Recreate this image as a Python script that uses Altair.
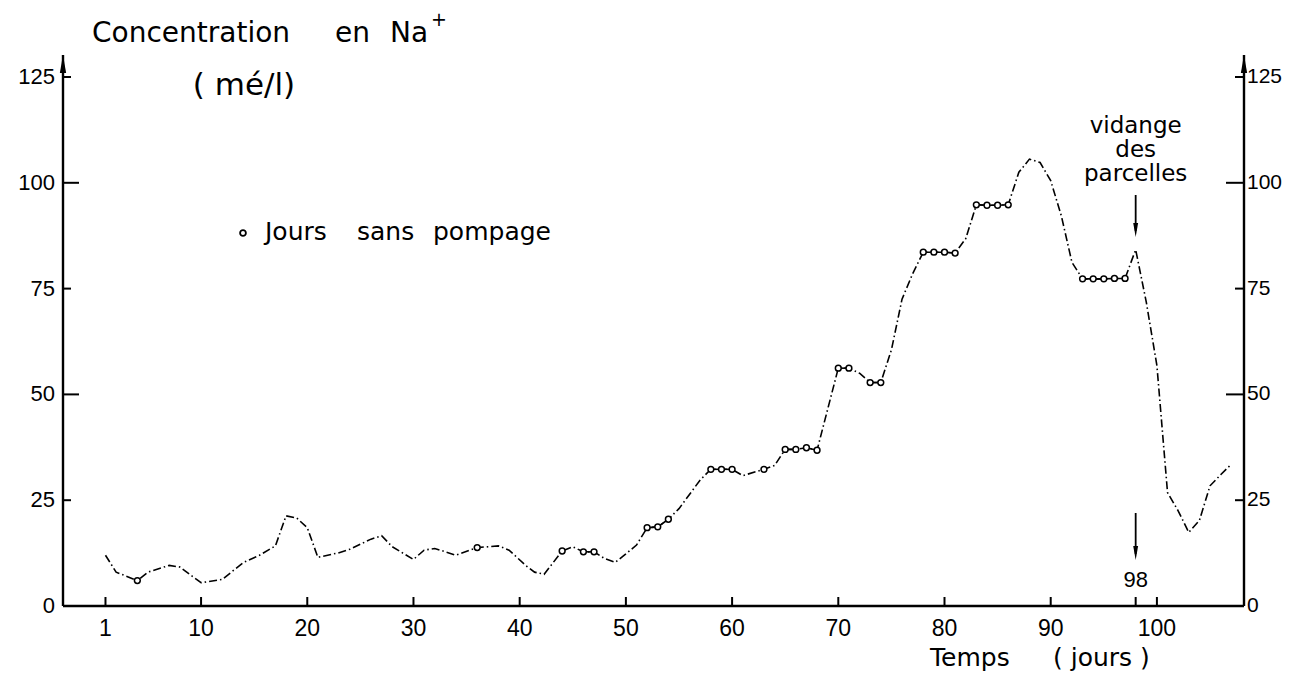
import altair as alt
import pandas as pd

# ---- data ----
days = [1, 2, 4, 5, 7, 8, 10, 12, 14, 15.5, 17, 18, 19, 20, 21, 23, 24, 26, 27, 28,
        30, 31, 32, 34, 36, 38, 39, 40.6, 41.4, 42.3, 44, 45, 46, 47, 48, 49, 50, 51,
        52, 53, 54, 55, 57, 58, 59, 60, 61, 63, 64, 65, 66, 67, 68, 70, 71, 72, 73, 74,
        75, 76, 77, 78, 79, 80, 81, 82, 83, 84, 85, 86, 87, 88, 89, 90, 91, 92, 93, 94,
        95, 96, 97, 98, 99, 100, 101, 102, 103, 104, 105, 106, 107]
sodium = [12.0, 8.0, 6.0, 8.0, 9.6, 9.2, 5.5, 6.3, 10.3, 12.0, 14.2, 21.3, 20.8, 18.5,
          11.5, 12.6, 13.4, 15.8, 16.6, 14.0, 11.0, 13.2, 13.6, 12.0, 13.8, 14.2, 13.2,
          9.5, 8.0, 7.5, 13.0, 14.0, 12.8, 12.8, 11.2, 10.3, 12.3, 14.4, 18.5, 18.7,
          20.5, 23.0, 29.8, 32.3, 32.3, 32.3, 30.8, 32.3, 33.2, 37.0, 37.0, 37.4, 36.8,
          56.2, 56.2, 55.0, 52.8, 52.8, 60.5, 72.5, 78.5, 83.6, 83.6, 83.6, 83.4, 86.8,
          94.8, 94.7, 94.7, 94.8, 102.5, 105.6, 104.8, 100.5, 92.2, 81.2, 77.3, 77.3,
          77.3, 77.4, 77.4, 84.2, 71.8, 56.8, 26.8, 22.5, 17.4, 20.2, 28.4, 31.0, 33.5]
no_pump_runs = [[4], [36], [44], [46, 47], [52, 53, 54], [58, 59, 60], [63], [65, 66],
                [67, 68], [70, 71], [73, 74], [78, 79, 80, 81], [83, 84, 85, 86],
                [93, 94, 95, 96, 97]]
x_tick_days = [1, 10, 20, 30, 40, 50, 60, 70, 80, 90, 100]
y_tick_values = [0, 25, 50, 75, 100, 125]
y_long_left = [50, 100]
y_long_right = [50, 100]
drain_day = 98

# ---- layout ----
X_MIN, X_MAX = -3.0, 108.2
Y_MIN, Y_MAX = 0, 130.2
W, H = 1181, 551
WORD_FONT = "DejaVu Sans"
NUM_FONT = "Liberation Sans"

series = pd.DataFrame({"day": days, "na": sodium})
lookup = dict(zip(days, sodium))
nopump = pd.DataFrame([{"day": d, "na": lookup[d], "run": i}
                       for i, run in enumerate(no_pump_runs) for d in run])
solid = nopump[nopump.groupby("run")["day"].transform("count") > 1]
xticks_df = pd.DataFrame({"day": x_tick_days})
yticks_df = pd.DataFrame({"v": y_tick_values})

xs = alt.Scale(domain=[X_MIN, X_MAX], nice=False, zero=False)
ys = alt.Scale(domain=[Y_MIN, Y_MAX], nice=False, zero=False)
one = pd.DataFrame({"k": [0]})


def X(field=None, datum=None):
    if field is not None:
        return alt.X(field, type="quantitative", scale=xs, axis=None)
    return alt.X(datum=datum, scale=xs, axis=None)


def Y(field=None, datum=None):
    if field is not None:
        return alt.Y(field, type="quantitative", scale=ys, axis=None)
    return alt.Y(datum=datum, scale=ys, axis=None)


line = alt.Chart(series).mark_line(color="black", strokeWidth=1.6,
                                   strokeDash=[8, 3, 1.5, 3]).encode(
    x=X("day"), y=Y("na"))

solid_line = alt.Chart(solid).mark_line(color="black", strokeWidth=1.6).encode(
    x=X("day"), y=Y("na"), detail="run:N")

circles = alt.Chart(nopump).mark_point(shape="circle", size=34, filled=True,
                                        fill="white", stroke="black",
                                        strokeWidth=1.5, opacity=1).encode(
    x=X("day"), y=Y("na"))


def seg(x0, x1, y0, y1, width=2.4):
    enc = dict(x=X(datum=x0), y=Y(datum=y0))
    if x1 != x0:
        enc["x2"] = alt.X2(datum=x1)
    if y1 != y0:
        enc["y2"] = alt.Y2(datum=y1)
    return alt.Chart(one).mark_rule(color="black", strokeWidth=width).encode(**enc)


# axis lines
axes = [seg(X_MIN, X_MIN, Y_MIN, Y_MAX), seg(X_MAX, X_MAX, Y_MIN, Y_MAX),
        seg(X_MIN, X_MAX, Y_MIN, Y_MIN)]


# inward ticks drawn as stroked line symbols (length = sqrt(size) / 2 px)
def tick_mark(df, shape, length_px, **enc):
    return alt.Chart(df).mark_point(shape=shape, size=(2 * length_px) ** 2,
                                    filled=False, color="black", strokeWidth=2,
                                    opacity=1, strokeCap="butt").encode(**enc)


UP, RIGHT, LEFT = "M0,0L0,-1", "M0,0L1,0", "M0,0L-1,0"
left_minor = pd.DataFrame({"v": [v for v in y_tick_values if v not in y_long_left]})
right_minor = pd.DataFrame({"v": [v for v in y_tick_values if v not in y_long_right]})
ticks = [
    tick_mark(pd.DataFrame({"day": x_tick_days + [drain_day]}), UP, 9,
              x=X("day"), y=Y(datum=Y_MIN)),
    tick_mark(left_minor, RIGHT, 8, x=X(datum=X_MIN), y=Y("v")),
    tick_mark(pd.DataFrame({"v": y_long_left}), RIGHT, 16, x=X(datum=X_MIN), y=Y("v")),
    tick_mark(right_minor, LEFT, 9, x=X(datum=X_MAX), y=Y("v")),
    tick_mark(pd.DataFrame({"v": y_long_right}), LEFT, 18, x=X(datum=X_MAX), y=Y("v")),
]

# tick labels
labels = [
    alt.Chart(xticks_df).mark_text(font=NUM_FONT, fontSize=23, color="black",
                                   align="center", baseline="top").encode(
        x=X("day"), y=alt.value(H + 12), text="day:Q"),
    alt.Chart(yticks_df).mark_text(font=NUM_FONT, fontSize=22, color="black",
                                   align="right", baseline="middle").encode(
        y=Y("v"), x=alt.value(-8), text="v:Q"),
    alt.Chart(yticks_df).mark_text(font=NUM_FONT, fontSize=21, color="black",
                                   align="left", baseline="middle").encode(
        y=Y("v"), x=alt.value(W + 3), text="v:Q"),
]

# axis arrowheads
ARROW_UP = "M0,-1L0.35,1L-0.35,1Z"
ARROW_DOWN = "M0,1L0.35,-1L-0.35,-1Z"
heads = [
    alt.Chart(one).mark_point(shape=ARROW_UP, size=324, filled=True, color="black",
                              opacity=1, yOffset=9).encode(
        x=X(datum=xv), y=Y(datum=Y_MAX))
    for xv in (X_MIN, X_MAX)
]


def txt(text, x, y, size, align="left", font=WORD_FONT, **kw):
    return alt.Chart(one).mark_text(align=align, baseline="alphabetic",
                                    font=font, fontSize=size, color="black",
                                    **kw).encode(
        x=x if not isinstance(x, (int, float)) else alt.value(x),
        y=alt.value(y), text=alt.value(text))


xd = X(datum=drain_day)

texts = [
    txt("Concentration", 29, -13, 28),
    txt("en", 272, -13, 28),
    txt("Na", 327, -13, 28),
    txt("+", 368, -29, 19),
    txt("( mé/l)", 181, 40, 31, align="center"),
    txt("Jours", 202, 185, 25),
    txt("sans", 294, 185, 25),
    txt("pompage", 370, 185, 25),
    txt("Temps", 867, 611, 25),
    txt("( jours )", 990, 611, 25),
    txt(["vidange", "des", "parcelles"], xd, 78, 23, align="center", lineHeight=24),
    txt(str(drain_day), xd, 532, 22, align="center", font=NUM_FONT),
]

legend_dot = alt.Chart(one).mark_point(shape="circle", size=34, filled=True,
                                        fill="white", stroke="black",
                                        strokeWidth=1.8, opacity=1).encode(
    x=alt.value(180), y=alt.value(178))

arrows = []
for y0, y1 in ((140, 182), (458, 505)):
    arrows.append(alt.Chart(one).mark_rule(color="black", strokeWidth=1.8).encode(
        x=xd, y=alt.value(y0), y2=alt.value(y1 - 6)))
    arrows.append(alt.Chart(one).mark_point(shape=ARROW_DOWN, size=196, filled=True,
                                            color="black", opacity=1,
                                            yOffset=-7).encode(
        x=xd, y=alt.value(y1)))

chart = alt.layer(line, solid_line, circles, *axes, *ticks, *labels, *heads,
                  *texts, legend_dot, *arrows).properties(
    width=W, height=H,
    autosize=alt.AutoSizeParams(type="none"),
    padding={"left": 55, "top": 47, "right": 38, "bottom": 65},
).configure_view(stroke=None)

chart.save("out.html", embed_options={"renderer": "svg", "actions": False})
